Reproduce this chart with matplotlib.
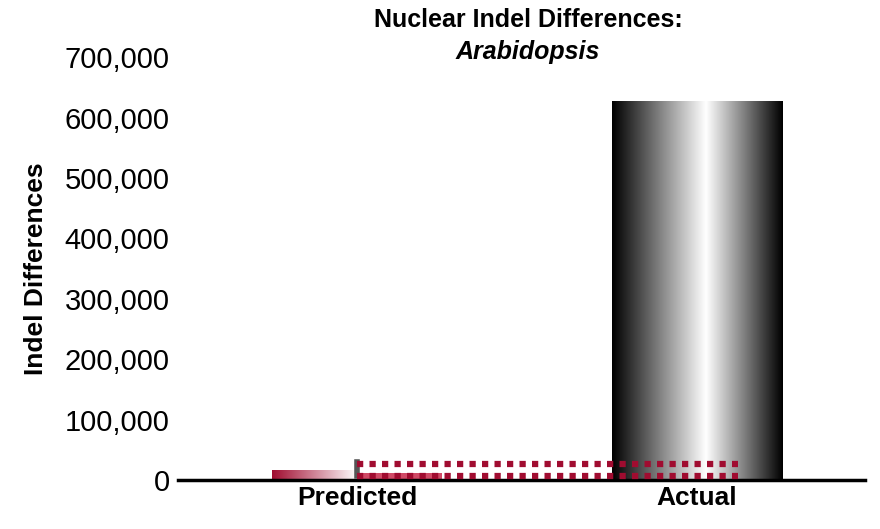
import numpy as np
import matplotlib
matplotlib.use("Agg")
import matplotlib.pyplot as plt
from matplotlib.colors import LinearSegmentedColormap

categories = ["Predicted", "Actual"]
values = [16000, 627000]
dotted_levels = [26000, 7000]

fig = plt.figure(figsize=(8.8, 5.29), dpi=100)
ax = fig.add_axes([0.2023, 0.0926, 0.7807, 0.7994])
ax.set_xlim(-0.526, 1.494)
ax.set_ylim(0, 700000)

w = 0.5
gray = LinearSegmentedColormap.from_list("g", [(0, "#000000"), (0.55, "#ffffff"), (1, "#000000")])
grad = np.linspace(0, 1, 256).reshape(1, -1)
ax.imshow(grad, cmap=gray, aspect="auto", extent=[1 - w/2, 1 + w/2, 0, values[1]], zorder=2)
red = LinearSegmentedColormap.from_list("r", ["#a00c30", "#ffffff"])
ax.imshow(grad, cmap=red, aspect="auto", extent=[-w/2, 0, 0, values[0]], zorder=2)
ax.bar(0.0, values[0]*0.75, width=0.25, align="edge", color="#d04a66", zorder=2)
ax.plot([0, 0], [6000, 30000], color="#555555", lw=4, zorder=3)
for lv in dotted_levels:
    ax.plot([0.0, 1.12], [lv, lv], color="#a00c30", lw=4.5, linestyle=(0, (1, 1)), zorder=4)

ax.set_xticks([0, 1])
ax.set_xticklabels(categories, fontsize=19, fontweight="bold", fontfamily="Liberation Sans")
ax.set_yticks(np.arange(0, 700001, 100000))
ax.set_yticklabels([f"{v:,}" for v in np.arange(0, 700001, 100000)], fontsize=21, fontfamily="Liberation Sans")
ax.tick_params(axis="x", length=0, pad=4)
ax.tick_params(axis="y", length=0, pad=6)
for s in ["top", "right", "left"]:
    ax.spines[s].set_visible(False)
ax.spines["bottom"].set_linewidth(2.5)
ax.set_ylabel("Indel Differences", fontsize=19, fontweight="bold", fontfamily="Liberation Sans", labelpad=12)
fig.text(0.6, 0.985, "Nuclear Indel Differences:", ha="center", va="top", fontsize=18,
         fontweight="bold", fontfamily="Liberation Sans")
fig.text(0.6, 0.925, "Arabidopsis", ha="center", va="top", fontsize=18,
         fontweight="bold", style="italic", fontfamily="Liberation Sans")
fig.savefig("out.png", dpi=100)
